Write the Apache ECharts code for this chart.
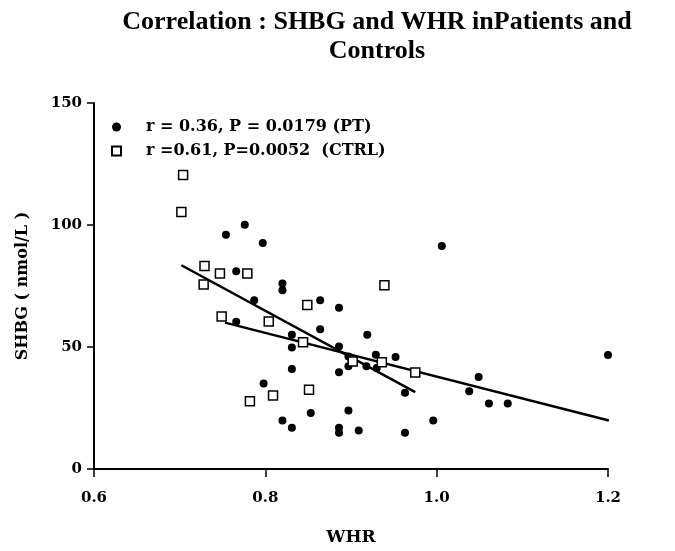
<!DOCTYPE html>
<html><head><meta charset="utf-8">
<script src="https://cdn.jsdelivr.net/npm/echarts@6/dist/echarts.min.js"></script>
<style>html,body{margin:0;padding:0;background:#fff}#c{width:675px;height:551px}</style>
</head><body><div id="c"></div>
<script>
const titleText = "Correlation : SHBG and WHR inPatients and\nControls";
const xName = "WHR";
const yName = "SHBG ( nmol/L )";
const ptName = "r = 0.36, P = 0.0179 (PT)";
const ctrlName = "r =0.61, P=0.0052  (CTRL)";
const xTicks = [0.6, 0.8, 1.0, 1.2];
const yTicks = [0, 50, 100, 150];

const ptWHR = [0.754,0.776,0.797,0.766,0.766,0.787,0.820,0.820,0.864,0.886,0.864,0.831,0.831,0.919,0.886,0.831,0.886,0.897,0.897,0.798,0.853,0.897,0.820,0.831,0.886,0.886,0.909,0.929,0.952,0.918,0.930,0.963,0.963,0.996,1.006,1.049,1.038,1.061,1.083,1.200];
const ptSHBG = [96.0,100.1,92.6,81.0,60.3,69.2,76.0,73.3,69.2,66.1,57.3,55.0,49.8,55.0,50.2,41.0,39.7,46.1,42.1,35.0,23.0,24.0,19.9,16.9,16.9,14.9,15.8,46.8,45.9,42.1,41.4,31.2,14.9,19.9,91.4,37.7,31.9,26.8,26.8,46.7];

const ctrlWHR = [0.704,0.702,0.729,0.747,0.779,0.728,0.749,0.804,0.849,0.844,0.902,0.851,0.809,0.782,0.939,0.975,0.936];
const ctrlSHBG = [120.5,105.3,83.2,80.1,80.1,75.6,62.5,60.4,67.2,51.9,44.1,32.5,30.1,27.8,75.3,39.6,43.7];

const ptFitX = [0.753, 1.201];
const ptFitY = [60.0, 19.9];
const ctrlFitX = [0.702, 0.975];
const ctrlFitY = [83.5, 31.5];

const zip = (a,b) => a.map((v,i)=>[v,b[i]]);
const font = "Liberation Serif";
const font2 = "DejaVu Serif";
const chart = echarts.init(document.getElementById('c'));
chart.setOption({
  animation:false,
  backgroundColor:'#fff',
  title:{text:titleText,left:372,textAlign:'center',top:3,
    textStyle:{fontFamily:font,fontWeight:'bold',fontSize:26,color:'#000',lineHeight:29}},
  legend:{orient:'vertical',left:106,top:114,itemGap:8,itemWidth:9,itemHeight:9,
    data:[{name:ptName,icon:'circle'},{name:ctrlName,icon:'rect'}],
    textStyle:{fontFamily:font2,fontWeight:'bold',fontSize:16,color:'#000',padding:[0,0,0,20]}},
  grid:{left:94,right:67,top:103,bottom:80},
  xAxis:{type:'value',min:0.6,max:1.2,interval:0.2,name:xName,nameLocation:'middle',nameGap:60,
    nameTextStyle:{fontFamily:font2,fontWeight:'bold',fontSize:17,color:'#000'},
    axisLine:{lineStyle:{color:'#000',width:2}},axisTick:{inside:false,length:8,lineStyle:{color:'#000',width:1.5}},
    splitLine:{show:false},
    axisLabel:{formatter:v=>xTicks.includes(+v.toFixed(1))?v.toFixed(1):'',fontFamily:font2,fontWeight:'bold',fontSize:15,color:'#000',margin:22}},
  yAxis:{type:'value',min:0,max:150,interval:50,name:yName,nameLocation:'middle',nameGap:63,nameRotate:90,
    nameTextStyle:{fontFamily:font2,fontWeight:'bold',fontSize:16,color:'#000'},
    axisLine:{show:true,lineStyle:{color:'#000',width:2}},axisTick:{show:true,length:7,lineStyle:{color:'#000',width:1.5}},
    splitLine:{show:false},
    axisLabel:{formatter:v=>yTicks.includes(v)?String(v):'',fontFamily:font2,fontWeight:'bold',fontSize:15,color:'#000',margin:12}},
  series:[
    {name:ptName,type:'scatter',data:zip(ptWHR,ptSHBG),symbol:'circle',symbolSize:8,
      itemStyle:{color:'#000',opacity:1},z:3},
    {name:ctrlName,type:'scatter',data:zip(ctrlWHR,ctrlSHBG),symbol:'rect',symbolSize:9,
      itemStyle:{color:'#fff',borderColor:'#000',borderWidth:1.5,opacity:1},z:4},
    {name:'ptFit',type:'line',data:zip(ptFitX,ptFitY),symbol:'none',lineStyle:{color:'#000',width:2.5},z:2},
    {name:'ctrlFit',type:'line',data:zip(ctrlFitX,ctrlFitY),symbol:'none',lineStyle:{color:'#000',width:2.5},z:2}
  ]
});
</script></body></html>
